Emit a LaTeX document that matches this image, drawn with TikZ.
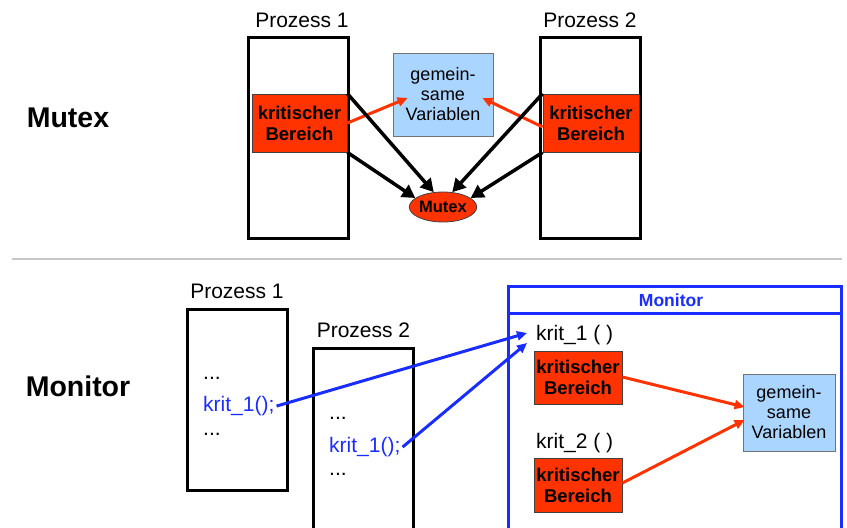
\documentclass[tikz,border=0pt]{standalone}
\usepackage{fontspec}
\setmainfont{Liberation Sans}
\usetikzlibrary{arrows.meta,shapes.geometric}
\definecolor{critred}{RGB}{255,51,0}
\definecolor{varblue}{RGB}{170,213,255}
\definecolor{monblue}{RGB}{25,45,255}

\begin{document}
\begin{tikzpicture}[x=1pt,y=-1pt,
  proc/.style={draw, line width=3pt, minimum width=100pt, inner sep=0pt},
  crit/.style={draw=black!75, fill=critred, line width=0.8pt, align=center, inner sep=0pt,
    font=\bfseries\fontsize{18.5}{21}\selectfont},
  shared/.style={draw=black!55, fill=varblue, line width=0.8pt, align=center, inner sep=0pt,
    font=\fontsize{18}{20}\selectfont},
  lbl/.style={font=\fontsize{21}{24}\selectfont},
  code/.style={font=\fontsize{21}{24}\selectfont, anchor=base west, inner sep=0pt},
  title/.style={font=\bfseries\fontsize{28.5}{32}\selectfont},
  lock/.style={-{Triangle[length=13pt,width=14pt]}, line width=3.5pt},
  use/.style={-{Triangle[length=10pt,width=9pt]}, line width=3pt, critred},
  call/.style={-{Triangle[length=10pt,width=9pt]}, line width=3pt, monblue}]
\clip (0,0) rectangle (847,528);

\node[title] (t1) at (68,118) {Mutex};
\node[title] (t2) at (78,386) {Monitor};

% Mutex
\node[proc, minimum height=201pt] (p1) at (298.5,137.5) {};
\node[proc, minimum height=201pt] (p2) at (590,137.5) {};
\node[lbl] (l1) at (302,20.5) {Prozess 1};
\node[lbl] (l2) at (590,20.5) {Prozess 2};
\node[crit, minimum width=95pt, minimum height=58pt] (k1) at (299.5,123) {kritischer\\Bereich};
\node[crit, minimum width=96pt, minimum height=58pt] (k2) at (591,123) {kritischer\\Bereich};
\node[shared, minimum width=100pt, minimum height=83pt] (v1) at (443,94.5) {gemein-\\same\\Variablen};
\node[draw=black!75, fill=critred, ellipse, line width=0.8pt, minimum width=67pt, minimum height=30pt,
  inner sep=0pt, font=\bfseries\fontsize{16.5}{18}\selectfont] (mx) at (443,207) {Mutex};

\path[draw,use] (k1.east) -- ([xshift=15pt,yshift=-3.5pt]v1.west);
\path[draw,use] ([yshift=-4pt]k2.west) -- ([xshift=-11pt,yshift=-3.5pt]v1.east);
\path[draw,lock] (k1.north east) -- (mx.122);
\path[draw,lock] (k1.south east) -- (mx.162);
\path[draw,lock] (k2.north west) -- (mx.58);
\path[draw,lock] (k2.south west) -- (mx.18);

\draw[black!22, line width=2pt] (12,259) -- (842,259);

% Monitor
\node[proc, minimum height=181pt] (q1) at (237.5,399.5) {};
\node[proc, minimum height=212pt] (q2) at (363.5,454) {};
\node[lbl] (m1) at (237,291.5) {Prozess 1};
\node[lbl] (m2) at (363.5,330.5) {Prozess 2};
\node[code] (a1) at (203,379) {...};
\node[code, monblue] (c1) at (203,411.5) {krit\_1();};
\node[code] (b1) at (203,435.5) {...};
\node[code] (a2) at (329,419) {...};
\node[code, monblue] (c2) at (329,452.5) {krit\_1();};
\node[code] (b2) at (329,475) {...};

\node[draw=monblue, line width=3pt, minimum width=333pt, minimum height=272pt, inner sep=0pt] (mon) at (675,422.5) {};
\draw[monblue, line width=3pt] ([yshift=-28pt]mon.north west) -- ([yshift=-28pt]mon.north east);
\node[monblue, font=\bfseries\fontsize{17.5}{20}\selectfont] (mh) at (671,300) {Monitor};
\node[lbl, anchor=west, inner sep=0pt] (f1) at (536,335) {krit\_1 ( )};
\node[lbl, anchor=west, inner sep=0pt] (f2) at (536,443) {krit\_2 ( )};
\node[crit, minimum width=88pt, minimum height=53pt] (r1) at (578,377.5) {kritischer\\Bereich};
\node[crit, minimum width=88pt, minimum height=54pt] (r2) at (578,485) {kritischer\\Bereich};
\node[shared, minimum width=92pt, minimum height=77pt] (v2) at (789,412.5) {gemein-\\same\\Variablen};

\path[draw,call] ([xshift=2pt]c1.east) -- ([xshift=-9pt,yshift=2pt]f1.west);
\path[draw,call] ([xshift=2pt]c2.east) -- ([xshift=-9pt,yshift=-8pt]f1.west);
\path[draw,use] ([yshift=0.5pt]r1.east) -- ([xshift=2pt,yshift=5.5pt]v2.west);
\path[draw,use] ([yshift=2pt]r2.east) -- ([xshift=2pt,yshift=-7.5pt]v2.west);
\end{tikzpicture}
\end{document}
